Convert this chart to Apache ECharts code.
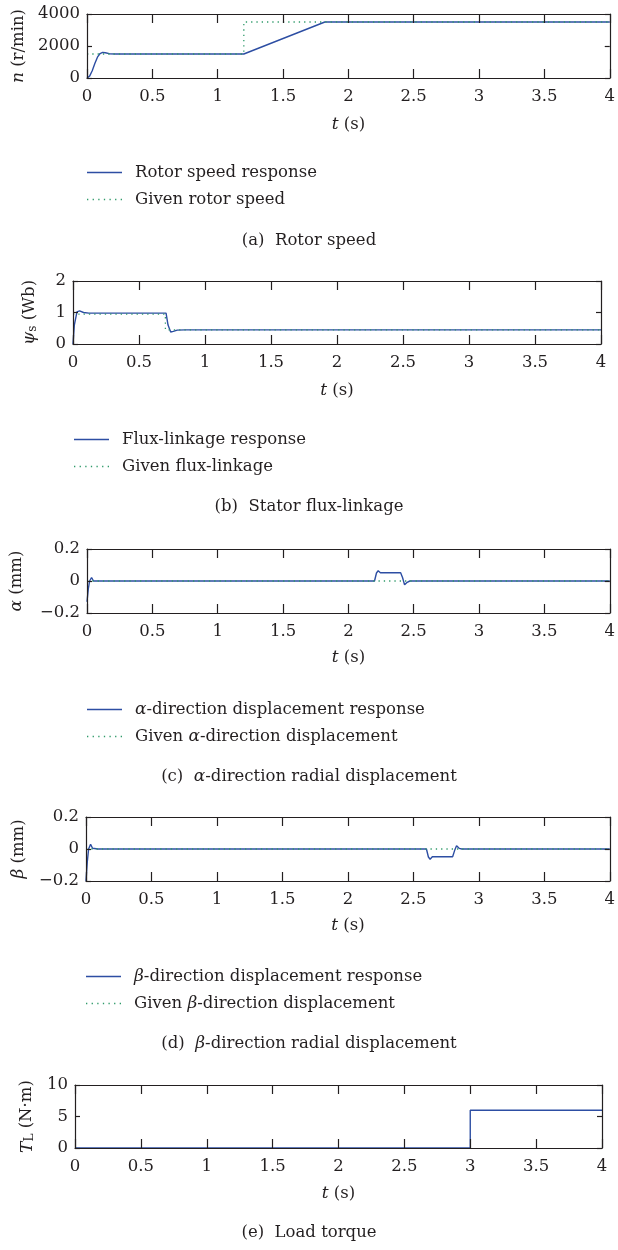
<!DOCTYPE html>
<html><head><meta charset="utf-8">
<script src="https://cdn.jsdelivr.net/npm/echarts@6/dist/echarts.min.js"></script>
<style>html,body{margin:0;padding:0;background:#fff}#c{width:618px;height:1250px}</style>
</head><body><div id="c"></div>
<script>
// ---- data ----
const xTicks = [0, 0.5, 1, 1.5, 2, 2.5, 3, 3.5, 4];

const speedRespT = [0, 0.02, 0.04, 0.06, 0.08, 0.10, 0.12, 0.14, 0.17, 0.22, 1.2, 1.82, 4];
const speedRespV = [0, 120, 450, 900, 1300, 1530, 1600, 1580, 1520, 1500, 1500, 3500, 3500];
const speedGivenT = [0, 1.2, 1.2, 4];
const speedGivenV = [1500, 1500, 3500, 3500];

const fluxRespT = [0, 0.01, 0.03, 0.05, 0.08, 0.12, 0.705, 0.72, 0.74, 0.76, 0.79, 0.85, 4];
const fluxRespV = [0, 0.6, 1.02, 1.05, 1.0, 0.98, 0.98, 0.6, 0.38, 0.40, 0.44, 0.45, 0.45];
const fluxGivenT = [0, 0.7, 0.7, 4];
const fluxGivenV = [0.95, 0.95, 0.45, 0.45];

const alphaRespT = [0, 0.01, 0.02, 0.035, 0.05, 0.065, 0.085, 2.2, 2.215, 2.228, 2.245, 2.40, 2.415, 2.43, 2.45, 2.47, 4];
const alphaRespV = [-0.13, -0.05, 0.0, 0.022, 0.0, -0.008, 0, 0, 0.05, 0.064, 0.052, 0.052, 0.02, -0.024, -0.008, 0, 0];
const alphaGivenT = [0, 4];
const alphaGivenV = [0, 0];

const betaRespT = [0, 0.01, 0.02, 0.035, 0.05, 0.065, 0.09, 2.6, 2.615, 2.628, 2.645, 2.80, 2.815, 2.83, 2.85, 2.87, 4];
const betaRespV = [-0.2, -0.08, 0.0, 0.03, 0.005, -0.006, 0, 0, -0.05, -0.064, -0.048, -0.048, -0.01, 0.02, 0.004, 0, 0];
const betaGivenT = [0, 4];
const betaGivenV = [0, 0];

const torqueT = [0, 3, 3, 4];
const torqueV = [0, 0, 6, 6];

const yMins = [0, 0, -0.2, -0.2, 0];
const yMaxs = [4000, 2, 0.2, 0.2, 10];
const yIntervals = [2000, 1, 0.2, 0.2, 5];

const yNames = ['{i|n} (r/min)', '{i|ψ}{sub|s} (Wb)', '{i|α} (mm)', '{i|β} (mm)', '{i|T}{sub|L} (N·m)'];
const legendNames = [
  ['Rotor speed response', 'Given rotor speed'],
  ['Flux-linkage response', 'Given flux-linkage'],
  ['α-direction displacement response', 'Given α-direction displacement'],
  ['β-direction displacement response', 'Given β-direction displacement']
];
const captions = ['(a)  Rotor speed', '(b)  Stator flux-linkage', '(c)  {i|α}-direction radial displacement',
  '(d)  {i|β}-direction radial displacement', '(e)  Load torque'];

// ---- layout ----
const FONT = 'DejaVu Serif';
const FS = 16.5;
const TXT = '#231f20';
const AX = '#231f20';
const BLUE = '#2d4ea3';
const GREEN = '#2f9a6a';
const grids = [
  {left: 87, top: 14, width: 526, height: 64},
  {left: 73, top: 281, width: 528, height: 63},
  {left: 87, top: 549, width: 527, height: 64},
  {left: 86, top: 817, width: 526, height: 64},
  {left: 75, top: 1085, width: 527, height: 63}
];
const yNameGaps = [60, 34, 62, 59, 38];
const xNameGaps = [38, 38, 36, 36, 37];
const legendTops = [164, 431, 701, 968];
const legendLefts = [87, 74, 87, 86];
const captionYs = [242, 508, 778, 1045, 1234];

const zip = (t, v) => t.map((x, i) => [x, v[i]]);
const fmt = v => String(v).replace('-', '\u2212');
const rich = () => ({
  i: {fontFamily: FONT, fontStyle: 'italic', fontSize: FS + 0.5, color: TXT},
  sub: {fontFamily: FONT, fontSize: 12, color: TXT, verticalAlign: 'bottom', padding: [6, 0, 0, 0]}
});
const line = () => ({show: true, onZero: false, lineStyle: {color: AX, width: 1.2}});
const tick = len => ({show: true, inside: true, length: len, lineStyle: {color: AX, width: 1.2}});

const xAxis = [], yAxis = [], series = [];
grids.forEach((g, k) => {
  xAxis.push({type: 'value', gridIndex: k, min: 0, max: 4, interval: 0.5, position: 'bottom', z: 5,
    axisLine: line(), axisTick: tick(9), splitLine: {show: false},
    axisLabel: {show: true, margin: 10, fontFamily: FONT, fontSize: FS, color: TXT, formatter: v => fmt(v)},
    name: '{i|t} (s)', nameLocation: 'middle', nameGap: xNameGaps[k],
    nameTextStyle: {fontFamily: FONT, fontSize: FS, color: TXT, rich: rich()}});
  xAxis.push({type: 'value', gridIndex: k, min: 0, max: 4, interval: 0.5, position: 'top', z: 5,
    axisLine: line(), axisTick: tick(9), splitLine: {show: false}, axisLabel: {show: false}});
  yAxis.push({type: 'value', gridIndex: k, min: yMins[k], max: yMaxs[k], interval: yIntervals[k], position: 'left', z: 5,
    axisLine: line(), axisTick: tick(5), splitLine: {show: false},
    axisLabel: {show: true, margin: 7, fontFamily: FONT, fontSize: FS, color: TXT, formatter: v => fmt(v)},
    name: yNames[k], nameLocation: 'middle', nameGap: yNameGaps[k],
    nameTextStyle: {fontFamily: FONT, fontSize: FS, color: TXT, rich: rich()}});
  yAxis.push({type: 'value', gridIndex: k, min: yMins[k], max: yMaxs[k], interval: yIntervals[k], position: 'right', z: 5,
    axisLine: line(), axisTick: tick(5), splitLine: {show: false}, axisLabel: {show: false}});
});

const respData = [zip(speedRespT, speedRespV), zip(fluxRespT, fluxRespV), zip(alphaRespT, alphaRespV), zip(betaRespT, betaRespV)];
const givenData = [zip(speedGivenT, speedGivenV), zip(fluxGivenT, fluxGivenV), zip(alphaGivenT, alphaGivenV), zip(betaGivenT, betaGivenV)];
for (let k = 0; k < 4; k++) {
  series.push({type: 'line', name: legendNames[k][0], xAxisIndex: 2 * k, yAxisIndex: 2 * k,
    data: respData[k], showSymbol: false, symbol: 'none', animation: false,
    lineStyle: {color: BLUE, width: 1.4}, itemStyle: {color: BLUE}});
  series.push({type: 'line', name: legendNames[k][1], xAxisIndex: 2 * k, yAxisIndex: 2 * k,
    data: givenData[k], showSymbol: false, symbol: 'none', animation: false,
    lineStyle: {color: GREEN, width: 1.3, type: [1.3, 4]}, itemStyle: {color: GREEN}});
}
series.push({type: 'line', name: 'Load torque', xAxisIndex: 8, yAxisIndex: 8,
  data: zip(torqueT, torqueV), showSymbol: false, symbol: 'none', animation: false,
  lineStyle: {color: BLUE, width: 1.4}, itemStyle: {color: BLUE}});

// legend icons: solid bar for the response, row of dots for the given value
const solidIcon = 'rect';
const dottedIcon = 'path://M0,0h1.3v1.3h-1.3z M5.6,0h1.3v1.3h-1.3z M11.2,0h1.3v1.3h-1.3z M16.8,0h1.3v1.3h-1.3z M22.4,0h1.3v1.3h-1.3z M28,0h1.3v1.3h-1.3z M33.6,0h1.3v1.3h-1.3z';
const legend = legendNames.map((names, k) => ({
  data: [{name: names[0], icon: solidIcon}, {name: names[1], icon: dottedIcon}],
  orient: 'vertical', left: legendLefts[k], top: legendTops[k], padding: 0,
  itemWidth: 35, itemHeight: 1.6, itemGap: 10, selectedMode: false,
  textStyle: {fontFamily: FONT, fontSize: FS, color: TXT, padding: [0, 0, 0, 8], rich: rich()},
  formatter: n => n.replace('α', '{i|α}').replace('β', '{i|β}')
}));

const graphic = captions.map((c, k) => ({
  type: 'text', left: 'center', top: captionYs[k] - 10, silent: true,
  style: {text: c, font: FS + 'px "' + FONT + '"', fill: TXT, rich: rich()}
}));

const chart = echarts.init(document.getElementById('c'), null, {renderer: 'canvas'});
chart.setOption({
  animation: false, backgroundColor: '#fff',
  grid: grids, xAxis, yAxis, series, legend, graphic
});
</script></body></html>
